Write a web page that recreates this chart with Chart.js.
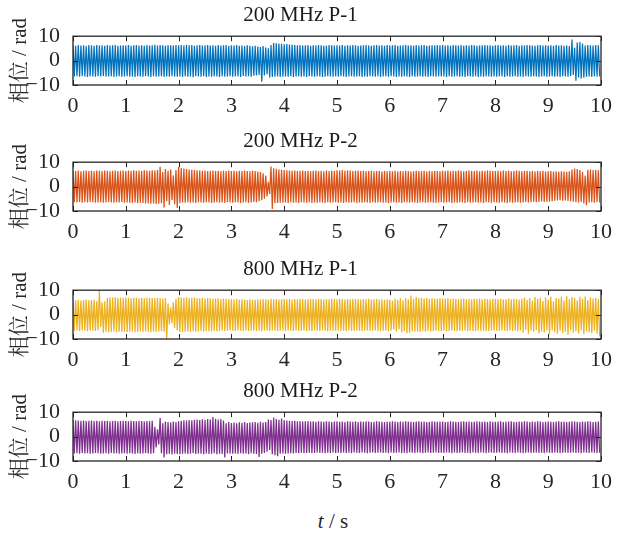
<!DOCTYPE html>
<html>
<head>
<meta charset="utf-8">
<script src="https://cdn.jsdelivr.net/npm/chart.js@4/dist/chart.umd.min.js"></script>
<style>
    body { margin: 0; background: #fff; }
    #wrap { position: relative; width: 623px; height: 535px; }
    #wrap canvas { position: absolute; left: 0; }
    #xlabel {
        position: absolute; left: 303px; top: 509px; width: 60px; text-align: center;
        font: 21px 'Liberation Serif', serif; color: #262626;
    }
</style>
</head>
<body>
<div id="wrap">
    <canvas id="c1" width="623" height="118" style="top:0px"></canvas>
    <canvas id="c2" width="623" height="118" style="top:126px"></canvas>
    <canvas id="c3" width="623" height="118" style="top:254px"></canvas>
    <canvas id="c4" width="623" height="118" style="top:376px"></canvas>
    <div id="xlabel"><i>t</i> / s</div>
</div>
<script>
// peaks / troughs of each cycle, 20 cycles per second (one row = 1 s)
const titles = ['200 MHz P-1', '200 MHz P-2', '800 MHz P-1', '800 MHz P-2'];
const colors = ['#0072BD', '#D95319', '#EDB120', '#7E2F8E'];
const xTicks = [0, 1, 2, 3, 4, 5, 6, 7, 8, 9, 10];
const yTicks = [-10, 0, 10];

const p200a_hi = [
    6.3,6.1,6.4,6.2,6.3,6.0,6.4,6.3,6.1,6.4,6.2,6.3,6.1,6.4,6.2,6.3,6.4,6.1,6.2,6.3,
    6.2,6.4,6.1,6.3,6.4,6.2,6.3,6.1,6.4,6.2,6.3,6.5,6.2,6.4,6.3,6.1,6.4,6.3,6.2,6.4,
    6.3,6.4,6.2,6.5,6.3,6.4,6.1,6.3,6.4,6.2,6.3,6.4,6.2,6.3,6.1,6.4,6.2,6.3,6.4,6.1,
    6.3,6.2,6.4,6.1,6.2,6.0,6.3,6.1,5.9,6.1,5.8,5.6,6.0,5.4,5.0,6.4,7.2,7.1,7.0,6.9,
    6.7,6.8,6.6,6.5,6.4,6.3,6.4,6.2,6.3,6.4,6.1,6.3,6.2,6.4,6.3,6.1,6.2,6.4,6.3,6.2,
    6.3,6.2,6.4,6.1,6.3,6.2,6.4,6.3,6.1,6.2,6.3,6.4,6.2,6.1,6.3,6.4,6.2,6.3,6.1,6.4,
    6.2,6.3,6.4,6.1,6.2,6.3,6.4,6.2,6.3,6.1,6.4,6.2,6.3,6.4,6.1,6.2,6.3,6.2,6.4,6.3,
    6.4,6.2,6.3,6.1,6.4,6.3,6.2,6.4,6.1,6.3,6.2,6.4,6.3,6.1,6.2,6.3,6.4,6.2,6.3,6.1,
    6.3,6.4,6.2,6.3,6.1,6.4,6.2,6.3,6.4,6.1,6.3,6.2,6.4,6.3,6.2,6.1,6.3,6.4,6.2,6.3,
    6.2,6.3,6.1,6.4,6.2,6.3,6.1,6.2,6.0,8.6,5.3,7.4,7.6,7.0,6.2,6.4,6.3,6.2,6.4,6.3
];
const p200a_lo = [
    -6.5,-6.4,-6.6,-6.3,-6.5,-6.7,-6.4,-6.5,-6.6,-6.4,-6.5,-6.3,-6.6,-6.5,-6.4,-6.7,-6.5,-6.4,-6.6,-6.5,
    -6.4,-6.6,-6.5,-6.7,-6.4,-6.5,-6.6,-6.3,-6.5,-6.7,-6.4,-6.6,-6.5,-6.4,-6.7,-6.5,-6.6,-6.4,-6.5,-6.6,
    -6.5,-6.7,-6.4,-6.6,-6.5,-6.8,-6.4,-6.5,-6.6,-6.4,-6.7,-6.5,-6.6,-6.4,-6.5,-6.7,-6.4,-6.6,-6.5,-6.4,
    -6.6,-6.4,-6.5,-6.7,-6.3,-6.5,-6.4,-6.6,-6.2,-6.1,-5.9,-8.7,-6.1,-5.6,-6.9,-6.7,-6.6,-6.5,-6.7,-6.6,
    -6.5,-6.6,-6.4,-6.7,-6.5,-6.4,-6.6,-6.5,-6.7,-6.4,-6.5,-6.6,-6.4,-6.5,-6.7,-6.6,-6.4,-6.5,-6.6,-6.4,
    -6.6,-6.4,-6.5,-6.7,-6.5,-6.4,-6.6,-6.5,-6.4,-6.7,-6.5,-6.6,-6.4,-6.5,-6.6,-6.4,-6.7,-6.5,-6.4,-6.6,
    -6.4,-6.5,-6.7,-6.5,-6.6,-6.4,-6.5,-6.7,-6.4,-6.6,-6.5,-6.4,-6.6,-6.5,-6.7,-6.4,-6.5,-6.6,-6.4,-6.5,
    -6.5,-6.7,-6.4,-6.6,-6.5,-6.4,-6.6,-6.5,-6.7,-6.4,-6.5,-6.6,-6.4,-6.7,-6.5,-6.6,-6.4,-6.5,-6.6,-6.5,
    -6.6,-6.4,-6.5,-6.7,-6.4,-6.6,-6.5,-6.4,-6.6,-6.5,-6.7,-6.4,-6.5,-6.6,-6.4,-6.5,-6.7,-6.5,-6.4,-6.6,
    -6.5,-6.4,-6.6,-6.5,-6.7,-6.4,-6.5,-6.6,-6.3,-5.9,-8.2,-6.9,-7.3,-7.0,-6.6,-6.5,-6.7,-6.4,-6.6,-6.5
];

const p200b_hi = [
    6.5,6.4,6.6,6.3,6.5,6.6,6.4,6.5,6.3,6.6,6.5,6.4,6.6,6.5,6.3,6.5,6.6,6.4,6.5,6.6,
    6.4,6.6,6.5,6.7,6.5,6.6,6.4,6.7,6.6,6.5,6.7,6.6,6.8,8.1,6.0,7.2,6.5,7.0,4.5,6.8,
    8.1,7.6,7.4,7.2,7.0,6.9,6.8,6.7,6.6,6.5,6.6,6.4,6.5,6.6,6.4,6.5,6.3,6.5,6.4,6.6,
    6.4,6.5,6.3,6.5,6.4,6.6,6.4,6.3,6.5,6.4,6.2,6.0,5.5,4.5,2.0,8.2,7.5,7.3,7.0,6.9,
    6.8,6.7,6.6,6.5,6.6,6.4,6.5,6.6,6.4,6.5,6.3,6.5,6.6,6.4,6.5,6.3,6.6,6.4,6.5,6.4,
    6.7,6.6,6.8,6.5,6.7,6.6,6.4,6.5,6.6,6.4,6.5,6.3,6.4,6.5,6.3,6.4,6.5,6.2,6.4,6.3,
    6.4,6.3,6.5,6.2,6.4,6.3,6.5,6.4,6.2,6.3,6.5,6.4,6.3,6.5,6.2,6.4,6.3,6.5,6.4,6.3,
    6.5,6.4,6.6,6.3,6.5,6.4,6.6,6.5,6.3,6.4,6.6,6.5,6.4,6.6,6.3,6.5,6.4,6.6,6.5,6.4,
    6.4,6.5,6.3,6.6,6.4,6.5,6.3,6.4,6.6,6.5,6.3,6.4,6.5,6.3,6.4,6.2,6.4,6.3,6.5,6.2,
    6.3,6.4,6.2,6.3,6.1,6.3,6.2,6.1,6.3,7.0,7.4,7.2,6.8,6.0,4.5,6.9,7.0,6.8,6.9,6.7
];
const p200b_lo = [
    -6.4,-6.5,-6.3,-6.6,-6.4,-6.5,-6.3,-6.4,-6.6,-6.5,-6.4,-6.6,-6.5,-6.3,-6.5,-6.6,-6.4,-6.5,-6.3,-6.6,
    -6.5,-6.6,-6.7,-6.5,-6.8,-6.6,-6.7,-6.9,-6.8,-7.0,-6.9,-7.1,-7.0,-6.8,-8.6,-6.0,-7.5,-5.5,-7.2,-8.8,
    -6.8,-6.5,-6.6,-6.4,-6.6,-6.5,-6.7,-6.4,-6.5,-6.6,-6.4,-6.5,-6.7,-6.5,-6.4,-6.6,-6.5,-6.7,-6.4,-6.5,
    -6.6,-6.4,-6.5,-6.7,-6.5,-6.4,-6.6,-6.5,-6.3,-6.4,-6.0,-5.6,-5.0,-4.0,-3.0,-9.2,-6.8,-6.7,-6.6,-6.6,
    -6.5,-6.7,-6.4,-6.6,-6.5,-6.7,-6.4,-6.5,-6.6,-6.4,-6.7,-6.5,-6.6,-6.4,-6.5,-6.7,-6.4,-6.6,-6.5,-6.4,
    -6.6,-6.5,-6.7,-6.4,-6.6,-6.5,-6.4,-6.7,-6.5,-6.6,-6.4,-6.5,-6.7,-6.4,-6.6,-6.5,-6.4,-6.6,-6.5,-6.7,
    -6.5,-6.4,-6.6,-6.5,-6.7,-6.4,-6.5,-6.6,-6.4,-6.5,-6.7,-6.5,-6.4,-6.6,-6.5,-6.4,-6.6,-6.7,-6.5,-6.4,
    -6.6,-6.5,-6.4,-6.7,-6.5,-6.6,-6.4,-6.5,-6.7,-6.4,-6.6,-6.5,-6.4,-6.6,-6.5,-6.7,-6.4,-6.5,-6.6,-6.4,
    -6.5,-6.6,-6.4,-6.5,-6.7,-6.4,-6.6,-6.5,-6.4,-6.6,-6.5,-6.3,-6.5,-6.4,-6.2,-6.4,-6.3,-6.1,-6.3,-6.2,
    -6.2,-6.0,-5.8,-5.7,-5.6,-5.8,-5.7,-5.9,-6.0,-6.2,-6.4,-6.5,-6.3,-6.9,-7.6,-6.5,-6.4,-6.6,-6.3,-6.5
];

const p800a_hi = [
    6.0,5.9,6.1,5.8,6.0,6.1,5.9,6.0,6.1,5.6,10.0,5.0,5.5,6.8,7.1,7.0,7.2,6.9,7.0,6.8,
    6.9,7.0,6.8,6.9,7.0,6.7,6.9,6.8,7.0,6.9,6.8,6.7,6.9,6.8,6.6,6.8,4.5,3.0,5.0,6.5,
    7.2,7.0,6.9,7.1,6.8,6.9,7.0,6.8,6.7,6.9,6.6,6.8,6.7,6.5,6.6,6.7,6.4,6.6,6.5,6.4,
    6.3,6.2,6.4,6.1,6.3,6.2,6.0,6.3,6.2,6.1,6.3,6.2,6.4,6.3,6.2,6.5,6.3,6.4,6.2,6.3,
    6.4,6.3,6.5,6.2,6.4,6.3,6.5,6.4,6.2,6.3,6.5,6.4,6.3,6.5,6.4,6.2,6.4,6.3,6.5,6.4,
    6.3,6.5,6.4,6.2,6.4,6.3,6.5,6.4,6.3,6.2,6.4,6.3,6.5,6.2,6.3,6.4,6.2,6.3,6.1,6.3,
    6.2,5.8,6.5,6.0,6.7,5.9,6.8,6.2,7.8,6.5,7.2,6.7,6.9,6.6,6.8,6.5,6.7,6.6,6.5,6.7,
    6.6,6.5,6.7,6.4,6.6,6.5,6.3,6.5,6.6,6.4,6.5,6.3,6.5,6.4,6.6,6.3,6.5,6.4,6.3,6.5,
    6.4,6.3,6.5,6.2,6.4,6.6,6.3,6.5,6.4,6.2,6.5,7.0,6.1,6.8,5.8,7.2,6.4,6.9,5.6,7.0,
    6.2,7.3,5.5,6.8,6.6,7.4,5.8,7.5,6.4,7.2,6.8,5.9,7.3,6.5,7.4,6.0,7.1,6.6,6.9,6.4
];
const p800a_lo = [
    -6.6,-6.5,-6.7,-6.4,-6.6,-6.8,-6.5,-6.6,-6.7,-6.4,-5.2,-7.4,-7.0,-7.2,-7.1,-6.9,-7.2,-7.0,-7.1,-6.9,
    -7.1,-7.0,-6.9,-7.2,-7.0,-6.8,-7.1,-6.9,-7.0,-7.2,-6.9,-7.1,-7.0,-6.8,-7.0,-10.0,-4.0,-3.5,-5.5,-6.5,
    -7.2,-7.1,-7.0,-6.9,-7.1,-6.8,-7.0,-6.9,-6.8,-7.0,-6.7,-6.9,-6.8,-6.6,-6.8,-6.7,-6.5,-6.7,-6.6,-6.5,
    -6.6,-6.7,-6.5,-6.6,-6.8,-6.5,-6.7,-6.6,-6.5,-6.7,-6.6,-6.8,-6.5,-6.6,-6.7,-6.5,-6.6,-6.8,-6.6,-6.5,
    -6.7,-6.5,-6.6,-6.8,-6.5,-6.7,-6.6,-6.5,-6.7,-6.6,-6.8,-6.5,-6.6,-6.7,-6.5,-6.6,-6.8,-6.5,-6.7,-6.6,
    -6.5,-6.7,-6.6,-6.8,-6.5,-6.6,-6.7,-6.5,-6.6,-6.8,-6.6,-6.5,-6.7,-6.6,-6.5,-6.7,-6.8,-6.6,-6.5,-6.7,
    -6.5,-6.2,-6.9,-6.0,-7.2,-6.8,-7.6,-7.4,-6.8,-7.0,-6.9,-7.1,-6.8,-7.0,-6.7,-6.9,-6.8,-6.6,-6.8,-6.7,
    -6.6,-6.8,-6.7,-6.5,-6.7,-6.8,-6.6,-6.7,-6.5,-6.8,-6.6,-6.7,-6.8,-6.5,-6.7,-6.6,-6.8,-6.7,-6.5,-6.6,
    -6.6,-6.7,-6.5,-6.6,-6.8,-6.5,-6.7,-6.6,-6.8,-6.5,-7.4,-6.2,-7.8,-6.6,-7.0,-6.3,-7.6,-6.9,-7.3,-6.4,
    -8.0,-6.5,-7.2,-7.8,-6.6,-7.5,-7.0,-8.2,-6.5,-7.4,-6.8,-7.7,-6.4,-7.9,-6.9,-7.2,-7.5,-6.6,-7.8,-9.0
];

const p800b_hi = [
    6.8,6.7,6.6,6.5,6.6,6.4,6.5,6.6,6.4,6.5,6.3,6.5,6.4,6.5,6.3,6.4,6.5,6.3,6.4,6.5,
    6.4,6.3,6.5,6.4,6.3,6.5,6.4,6.2,6.4,6.3,6.5,4.0,3.0,7.6,5.5,6.2,6.0,5.8,6.2,6.0,
    6.3,6.5,6.7,6.6,6.8,6.7,6.9,7.0,6.8,7.1,6.9,7.2,7.0,8.0,7.3,7.0,7.2,6.6,5.5,6.0,
    5.6,5.8,5.5,5.9,5.7,6.0,5.6,5.8,5.9,6.0,5.7,6.1,5.8,6.0,7.0,6.8,7.8,7.2,6.9,7.4,
    6.8,6.6,6.5,6.4,6.5,6.3,6.4,6.2,6.3,6.4,6.2,6.3,6.1,6.3,6.2,6.1,6.3,6.2,6.0,6.2,
    6.3,6.1,6.2,6.0,6.3,6.2,6.1,6.3,6.0,6.2,6.1,6.3,6.2,6.0,6.1,6.3,6.2,6.1,6.0,6.2,
    6.1,6.3,6.2,6.0,6.2,6.1,6.3,6.2,6.1,6.0,6.2,6.3,6.1,6.2,6.0,6.1,6.3,6.2,6.1,6.2,
    6.2,6.0,6.1,6.3,6.2,6.1,6.0,6.2,6.3,6.1,6.2,6.0,6.1,6.3,6.2,6.1,6.2,6.0,6.3,6.1,
    6.1,6.2,6.3,6.0,6.1,6.2,6.3,6.1,6.0,6.2,6.1,6.3,6.2,6.0,6.2,6.1,6.3,6.2,6.0,6.1,
    6.2,6.1,6.0,6.2,6.3,6.1,6.2,6.0,6.1,6.3,6.2,6.1,6.0,6.2,6.1,6.3,6.2,6.0,6.1,6.2
];
const p800b_lo = [
    -6.9,-6.8,-7.0,-6.7,-6.9,-6.8,-7.0,-6.9,-6.7,-6.8,-7.0,-6.9,-6.8,-7.0,-6.7,-6.9,-6.8,-7.0,-6.9,-6.8,
    -7.0,-6.8,-6.9,-7.1,-6.8,-7.0,-6.9,-6.7,-6.9,-7.0,-6.8,-4.5,-3.2,-6.8,-8.6,-7.2,-7.0,-7.3,-6.9,-7.1,
    -7.2,-7.0,-6.9,-7.1,-7.0,-6.8,-7.1,-6.9,-7.0,-7.2,-6.9,-7.1,-7.0,-6.8,-7.2,-7.0,-7.1,-8.6,-6.9,-7.0,
    -7.0,-6.9,-7.1,-6.8,-7.0,-6.9,-7.2,-6.8,-7.0,-7.1,-8.4,-7.0,-6.7,-6.2,-5.5,-7.2,-7.6,-8.0,-7.0,-6.9,
    -7.0,-6.9,-6.8,-6.9,-6.7,-6.8,-6.6,-6.8,-6.7,-6.6,-6.8,-6.7,-6.5,-6.7,-6.6,-6.8,-6.6,-6.7,-6.5,-6.7,
    -6.6,-6.7,-6.5,-6.7,-6.6,-6.8,-6.5,-6.6,-6.7,-6.5,-6.6,-6.8,-6.6,-6.5,-6.7,-6.6,-6.5,-6.7,-6.6,-6.8,
    -6.5,-6.7,-6.6,-6.5,-6.7,-6.6,-6.8,-6.5,-6.6,-6.7,-6.5,-6.6,-6.8,-6.6,-6.5,-6.7,-6.6,-6.5,-6.7,-6.6,
    -6.7,-6.5,-6.6,-6.8,-6.5,-6.7,-6.6,-6.5,-6.7,-6.6,-6.8,-6.5,-6.6,-6.7,-6.5,-6.6,-6.8,-6.6,-6.5,-6.7,
    -6.6,-6.5,-6.7,-6.6,-6.8,-6.5,-6.6,-6.7,-6.5,-6.6,-6.8,-6.6,-6.5,-6.7,-6.6,-6.5,-6.7,-6.6,-6.8,-6.5,
    -6.6,-6.7,-6.5,-6.6,-6.8,-6.6,-6.5,-6.7,-6.6,-6.5,-6.7,-6.6,-6.8,-6.5,-6.6,-6.7,-6.5,-6.6,-6.7,-6.6
];

const series = [
    [p200a_hi, p200a_lo],
    [p200b_hi, p200b_lo],
    [p800a_hi, p800a_lo],
    [p800b_hi, p800b_lo]
];

const SERIF = "'Liberation Serif', 'Noto Serif CJK SC', 'Noto Sans CJK SC', serif";
const INK = '#262626';

// each cycle: peak at the start, trough half a step later
function zigzag(hi, lo) {
    var step = 10 / hi.length;
    var pts = [];
    for (var i = 0; i < hi.length; i++) {
        pts.push({x: i * step, y: hi[i]});
        pts.push({x: i * step + step / 2, y: lo[i]});
    }
    return pts;
}

// MATLAB style box with inward ticks on all four sides
const boxPlugin = {
    id: 'box',
    afterDraw(chart) {
        const {ctx, chartArea: a, scales} = chart;
        ctx.save();
        ctx.strokeStyle = INK;
        ctx.lineWidth = 1;
        ctx.beginPath();
        scales.x.ticks.forEach(t => {
            const px = Math.round(scales.x.getPixelForValue(t.value)) + 0.5;
            ctx.moveTo(px, a.bottom); ctx.lineTo(px, a.bottom - 5);
            ctx.moveTo(px, a.top); ctx.lineTo(px, a.top + 5);
        });
        scales.y.ticks.forEach(t => {
            const py = Math.round(scales.y.getPixelForValue(t.value)) + 0.5;
            ctx.moveTo(a.left, py); ctx.lineTo(a.left + 5, py);
            ctx.moveTo(a.right, py); ctx.lineTo(a.right - 5, py);
        });
        ctx.stroke();
        ctx.lineWidth = 1.3;
        ctx.strokeRect(a.left, a.top, a.width, a.height);
        ctx.restore();
    }
};

function makeChart(idx) {
    const ctx = document.getElementById('c' + (idx + 1));
    return new Chart(ctx, {
        type: 'line',
        data: {
            datasets: [{
                data: zigzag(series[idx][0], series[idx][1]),
                borderColor: colors[idx],
                borderWidth: 1.25,
                pointRadius: 0,
                tension: 0,
                fill: false
            }]
        },
        plugins: [boxPlugin],
        options: {
            responsive: false,
            animation: false,
            parsing: false,
            normalized: true,
            layout: {padding: {left: 0, right: 22, top: 0, bottom: 0}},
            plugins: {
                legend: {display: false},
                tooltip: {enabled: false},
                title: {
                    display: true,
                    text: titles[idx],
                    color: '#1a1a1a',
                    font: {family: SERIF, size: 21, weight: 'normal'},
                    padding: {top: 3, bottom: 8}
                }
            },
            scales: {
                x: {
                    type: 'linear',
                    min: 0,
                    max: 10,
                    afterBuildTicks: s => { s.ticks = xTicks.map(v => ({value: v})); },
                    afterFit: s => { s.height = 33; },
                    grid: {display: false},
                    border: {display: false},
                    ticks: {
                        color: INK,
                        padding: 0,
                        maxRotation: 0,
                        autoSkip: false,
                        font: {family: SERIF, size: 22}
                    }
                },
                y: {
                    type: 'linear',
                    min: -10,
                    max: 10,
                    afterBuildTicks: s => { s.ticks = yTicks.map(v => ({value: v})); },
                    afterFit: s => { s.width = 73; },
                    grid: {display: false},
                    border: {display: false},
                    ticks: {
                        color: INK,
                        padding: 5,
                        autoSkip: false,
                        font: {family: SERIF, size: 22},
                        callback: v => String(v).replace('-', '\u2212')
                    },
                    title: {
                        display: true,
                        text: '相位 / rad',
                        color: INK,
                        font: {family: SERIF, size: 21},
                        padding: {top: 8, bottom: 0}
                    }
                }
            }
        }
    });
}

for (var i = 0; i < 4; i++) {
    makeChart(i);
}
</script>
</body>
</html>
